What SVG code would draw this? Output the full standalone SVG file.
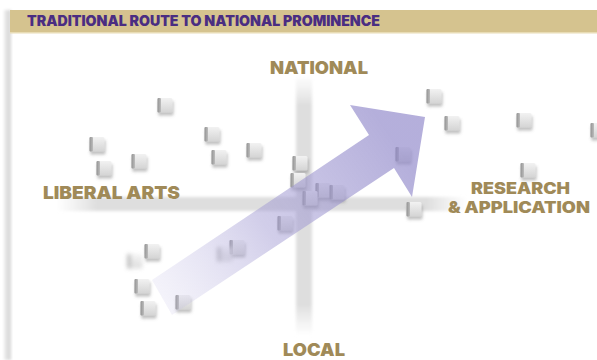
<svg xmlns="http://www.w3.org/2000/svg" width="597" height="360" viewBox="0 0 597 360">
  <defs>
    <style>
      .title{font-family:"Inter","Liberation Sans",sans-serif;font-weight:900;font-size:14px;fill:#4a2d82}
      .lbl{font-family:"Inter","Liberation Sans",sans-serif;font-weight:900;font-size:18px;fill:#a08a58}
      .lbs{font-family:"Inter","Liberation Sans",sans-serif;font-weight:900;font-size:15.5px;fill:#a08a58}
    </style>
    <linearGradient id="face" x1="0" y1="0" x2="0" y2="1">
      <stop offset="0" stop-color="#f2f2f2"/>
      <stop offset="1" stop-color="#d4d4d4"/>
    </linearGradient>
    <linearGradient id="side" x1="0" y1="0" x2="1" y2="0">
      <stop offset="0" stop-color="#929292"/>
      <stop offset="1" stop-color="#bdbdbd"/>
    </linearGradient>
    <filter id="sh" x="-50%" y="-50%" width="200%" height="200%">
      <feDropShadow dx="1" dy="3" stdDeviation="1.8" flood-color="#777" flood-opacity="0.45"/>
    </filter>
    <filter id="blur" x="-50%" y="-50%" width="200%" height="200%">
      <feGaussianBlur stdDeviation="2.2"/>
    </filter>
    <filter id="soft" x="-20%" y="-20%" width="140%" height="140%">
      <feGaussianBlur stdDeviation="1.5"/>
    </filter>
    <g id="cube">
      <rect x="-7.5" y="-7" width="15" height="14.5" rx="1.5" fill="url(#face)"/>
      <rect x="-7.5" y="-7" width="3.5" height="14.5" rx="1" fill="url(#side)"/>
    </g>
    <linearGradient id="vbar" x1="0" y1="0" x2="0" y2="1">
      <stop offset="0" stop-color="#e4e4e4" stop-opacity="0"/>
      <stop offset="0.12" stop-color="#dedede"/>
      <stop offset="0.88" stop-color="#dedede"/>
      <stop offset="1" stop-color="#e4e4e4" stop-opacity="0"/>
    </linearGradient>
    <linearGradient id="hbar" x1="0" y1="0" x2="1" y2="0">
      <stop offset="0" stop-color="#e4e4e4" stop-opacity="0"/>
      <stop offset="0.1" stop-color="#dedede"/>
      <stop offset="0.9" stop-color="#dedede"/>
      <stop offset="1" stop-color="#e4e4e4" stop-opacity="0"/>
    </linearGradient>
    <linearGradient id="arrowG" gradientUnits="userSpaceOnUse" x1="160" y1="300" x2="395" y2="140">
      <stop offset="0" stop-color="#c9c5e8" stop-opacity="0.2"/>
      <stop offset="0.45" stop-color="#a49dd4" stop-opacity="0.5"/>
      <stop offset="1" stop-color="#9189ca" stop-opacity="0.68"/>
    </linearGradient>
    <linearGradient id="edge" x1="0" y1="0" x2="1" y2="0">
      <stop offset="0" stop-color="#ececec"/>
      <stop offset="1" stop-color="#d2d2d2"/>
    </linearGradient>
  </defs>

  <rect width="597" height="360" fill="#ffffff"/>
  <rect x="4" y="10" width="7" height="350" fill="url(#edge)" filter="url(#soft)"/>

  <g id="header">
    <rect x="10" y="10" width="587" height="22" fill="#d5c38f"/>
    <rect x="10" y="32" width="587" height="1.5" fill="#e8dcb5"/>
    <text class="title" x="27" y="26" textLength="353" lengthAdjust="spacingAndGlyphs">TRADITIONAL ROUTE TO NATIONAL PROMINENCE</text>
  </g>

  <g id="axes">
    <rect x="296" y="74" width="16" height="262" fill="url(#vbar)" filter="url(#soft)"/>
    <rect x="56" y="197" width="412" height="14" fill="url(#hbar)" filter="url(#soft)"/>
  </g>

  <g id="labels">
    <text class="lbl" x="270" y="74" textLength="98" lengthAdjust="spacingAndGlyphs">NATIONAL</text>
    <text class="lbl" x="43" y="199" textLength="137" lengthAdjust="spacingAndGlyphs">LIBERAL ARTS</text>
    <text class="lbs" x="471" y="194" textLength="99" lengthAdjust="spacingAndGlyphs">RESEARCH</text>
    <text class="lbs" x="448" y="213" textLength="142" lengthAdjust="spacingAndGlyphs">&amp; APPLICATION</text>
    <text class="lbl" x="283" y="356" textLength="62" lengthAdjust="spacingAndGlyphs">LOCAL</text>
  </g>

  <g id="cubes" filter="url(#sh)">
    <g id="c1"><use href="#cube" x="165" y="105"/></g>
    <g id="c2"><use href="#cube" x="97" y="144"/></g>
    <g id="c3"><use href="#cube" x="104" y="168"/></g>
    <g id="c4"><use href="#cube" x="139" y="161"/></g>
    <g id="c5"><use href="#cube" x="212" y="134"/></g>
    <g id="c6"><use href="#cube" x="219" y="157"/></g>
    <g id="c7"><use href="#cube" x="254" y="150"/></g>
    <g id="c8"><use href="#cube" x="434" y="96"/></g>
    <g id="c9"><use href="#cube" x="452" y="123"/></g>
    <g id="c10"><use href="#cube" x="524" y="120"/></g>
    <g id="c11"><use href="#cube" x="598" y="130"/></g>
    <g id="c12"><use href="#cube" x="528" y="170"/></g>
    <g id="c13"><use href="#cube" x="414" y="209"/></g>
    <g id="c14"><use href="#cube" x="403" y="154"/></g>
    <g id="c15"><use href="#cube" x="300" y="163"/></g>
    <g id="c16"><use href="#cube" x="298" y="180"/></g>
    <g id="c17"><use href="#cube" x="323" y="190"/></g>
    <g id="c18"><use href="#cube" x="337" y="192"/></g>
    <g id="c19"><use href="#cube" x="310" y="198"/></g>
    <g id="c20"><use href="#cube" x="285" y="223"/></g>
    <g id="c21"><use href="#cube" x="237" y="247"/></g>
    <g id="c22"><use href="#cube" x="152" y="251"/></g>
    <g id="c23"><use href="#cube" x="142" y="286"/></g>
    <g id="c24"><use href="#cube" x="148" y="308"/></g>
    <g id="c25"><use href="#cube" x="183" y="302"/></g>
  </g>
  <g id="blurred" filter="url(#blur)" opacity="0.8">
    <g id="b1"><use href="#cube" x="135" y="261"/></g>
    <g id="b2"><use href="#cube" x="225" y="254"/></g>
  </g>

  <g id="connectors">
    <polygon id="arrow" points="152,280 369,135 350,105 425,117 412,197 394,168 172,315" fill="url(#arrowG)"/>
  </g>
</svg>
